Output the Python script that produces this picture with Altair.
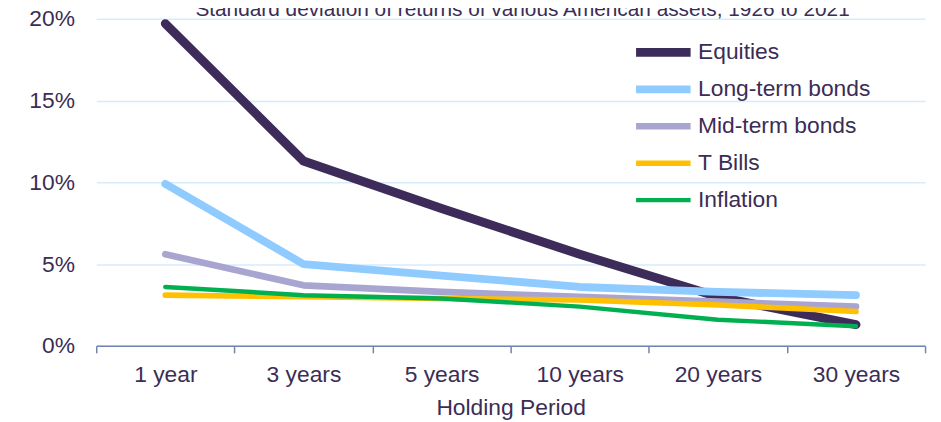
import altair as alt
import pandas as pd

periods = ["1 year", "3 years", "5 years", "10 years", "20 years", "30 years"]
series = ["Equities", "Long-term bonds", "Mid-term bonds", "T Bills", "Inflation"]
equities = [19.7, 11.3, 8.4, 5.6, 3.0, 1.3]
long_bonds = [9.9, 5.0, 4.3, 3.6, 3.3, 3.1]
mid_bonds = [5.6, 3.7, 3.3, 3.0, 2.7, 2.4]
t_bills = [3.1, 3.0, 2.9, 2.8, 2.5, 2.1]
inflation = [3.6, 3.1, 2.9, 2.4, 1.6, 1.2]
colors = ["#3d2b5a", "#8fcbff", "#a9a5d1", "#ffc000", "#00b050"]
widths = [9, 4.5, 4.5, 4.5, 4.5]
title_text = "Standard deviation of returns of various American assets, 1926 to 2021"

rows = []
for s, vals in zip(series, [equities, long_bonds, mid_bonds, t_bills, inflation]):
    for p, v in zip(periods, vals):
        rows.append({"Period": p, "Series": s, "Value": v / 100})
df = pd.DataFrame(rows)

FONT = "Liberation Sans"
TXT = "#3b2d55"

legend = alt.Legend(
    title=None, orient="none", legendX=540, legendY=20, symbolType="stroke",
    symbolSize=3025, clipHeight=28, rowPadding=9.25, labelOffset=3,
    labelFontSize=23, labelFont=FONT, labelColor=TXT, labelLimit=400, padding=0,
)

lines = alt.Chart(df).mark_line(strokeCap="round", strokeJoin="round").encode(
    x=alt.X("Period:N", sort=periods,
            scale=alt.Scale(type="band", paddingInner=0, paddingOuter=0),
            axis=alt.Axis(title="Holding Period", tickBand="extent", labelAngle=0,
                          grid=False, domainColor="#7084b2", domainWidth=1.5,
                          tickColor="#7084b2", tickWidth=1.5, tickSize=7,
                          labelPadding=11, labelFontSize=23, labelFont=FONT,
                          labelColor=TXT, titleFontSize=23, titleFont=FONT,
                          titleFontWeight="normal", titleColor=TXT, titlePadding=10)),
    y=alt.Y("Value:Q", scale=alt.Scale(domain=[0, 0.2]),
            axis=alt.Axis(title=None, format=".0%", values=[0, 0.05, 0.1, 0.15, 0.2],
                          domain=False, ticks=False, grid=True, gridColor="#d6ebfb",
                          gridWidth=1.5, labelPadding=22, labelFontSize=23,
                          labelFont=FONT, labelColor=TXT)),
    color=alt.Color("Series:N", sort=series,
                    scale=alt.Scale(domain=series, range=colors), legend=legend),
    strokeWidth=alt.StrokeWidth("Series:N", sort=series,
                                scale=alt.Scale(domain=series, range=widths), legend=legend),
)

title = alt.Chart(pd.DataFrame({"t": [title_text]})).mark_text(
    font=FONT, fontSize=21, color=TXT, align="center", baseline="alphabetic"
).encode(text="t:N", x=alt.value(430), y=alt.value(-3))

chart = alt.layer(lines, title).properties(
    width=836, height=330,
    autosize=alt.AutoSizeParams(type="none"),
    padding={"left": 89, "top": 9, "right": 8, "bottom": 75},
).configure_view(stroke=None)

chart.save("out.html", embed_options={"renderer": "svg", "actions": False})
